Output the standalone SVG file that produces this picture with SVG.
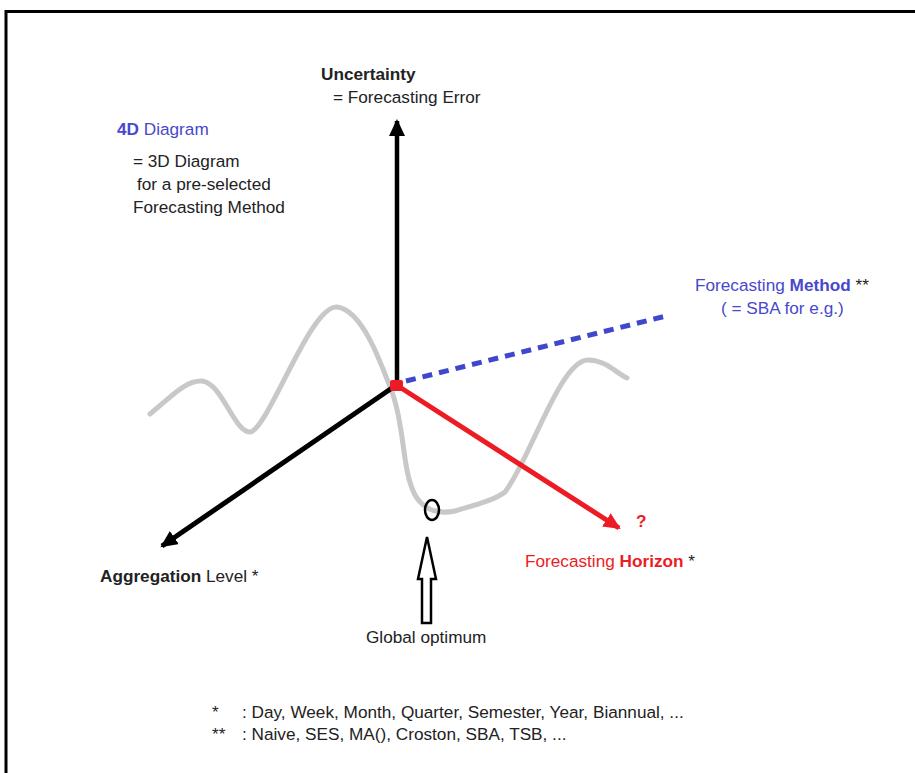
<svg xmlns="http://www.w3.org/2000/svg" width="915" height="773" viewBox="0 0 915 773">
<style>
text{font-family:"Liberation Sans",Arial,sans-serif;font-size:17.2px;fill:#222}
.b{font-weight:bold}
.blue{fill:#4848cc}
.red{fill:#ed1c24}
</style>
<defs>
<marker id="ahK" markerUnits="userSpaceOnUse" markerWidth="22" markerHeight="22" refX="15" refY="8" orient="auto"><path d="M0,0 L17,8 L0,16 Z" fill="#000"/></marker>
<marker id="ahR" markerUnits="userSpaceOnUse" markerWidth="22" markerHeight="22" refX="15" refY="8" orient="auto"><path d="M0,0 L17,8 L0,16 Z" fill="#ed1c24"/></marker>
</defs>
<rect width="915" height="773" fill="#fff"/>
<polyline points="6,773 6,11.5 915,11.5" fill="none" stroke="#000" stroke-width="3"/>
<g id="curve">
<path d="M150,414 C170,398 185,380 202,381 C222,383 234,432 250,432 C268,430 310,305 337,307 C362,310 380,360 393,395 C405,430 402,470 415,495 C425,512 440,514 455,511 C475,505 495,500 505,492 C530,460 560,360 588,360 C605,360 615,372 627,378" fill="none" stroke="#c8c8c8" stroke-width="5" stroke-linecap="round"/>
</g>
<g id="connectors">
<line x1="397" y1="386" x2="397" y2="121" stroke="#000" stroke-width="4.5" marker-end="url(#ahK)"/>
<line x1="392" y1="388" x2="162" y2="546" stroke="#000" stroke-width="5" marker-end="url(#ahK)"/>
<line x1="398" y1="386" x2="619" y2="528" stroke="#ed1c24" stroke-width="5" marker-end="url(#ahR)"/>
<line x1="406" y1="381" x2="666" y2="316" stroke="#3f48cc" stroke-width="5" stroke-dasharray="10,7"/>
<rect x="390" y="380" width="13" height="11" rx="2" fill="#ed1c24"/>
</g>
<g id="optimum">
<ellipse cx="432" cy="510" rx="7" ry="10" fill="none" stroke="#000" stroke-width="2.5"/>
<path d="M427,537 L436,579 L431,579 L431,623 L422,623 L422,579 L418,579 Z" fill="#fff" stroke="#000" stroke-width="2.5" stroke-linejoin="miter"/>
<text x="366" y="643">Global optimum</text>
</g>
<g id="uncertainty">
<text x="321" y="80" class="b">Uncertainty</text>
<text x="333" y="103">= Forecasting Error</text>
</g>
<g id="diagram4d">
<text x="117" y="135" class="blue"><tspan class="b">4D</tspan> Diagram</text>
<text x="133" y="167">= 3D Diagram</text>
<text x="137" y="190">for a pre-selected</text>
<text x="133" y="213">Forecasting Method</text>
</g>
<g id="method">
<text x="695" y="291"><tspan class="blue">Forecasting </tspan><tspan class="blue b">Method</tspan> **</text>
<text x="721" y="314" class="blue">( = SBA for e.g.)</text>
</g>
<g id="horizon">
<text x="636" y="527" class="red b">?</text>
<text x="525" y="567" class="red">Forecasting <tspan class="b">Horizon</tspan><tspan fill="#222"> *</tspan></text>
</g>
<g id="aggregation">
<text x="100" y="582"><tspan class="b">Aggregation</tspan> Level *</text>
</g>
<g id="footnotes">
<text x="212" y="718">*</text>
<text x="242" y="718">: Day, Week, Month, Quarter, Semester, Year, Biannual, ...</text>
<text x="212" y="740">**</text>
<text x="242" y="740">: Naive, SES, MA(), Croston, SBA, TSB, ...</text>
</g>
</svg>
